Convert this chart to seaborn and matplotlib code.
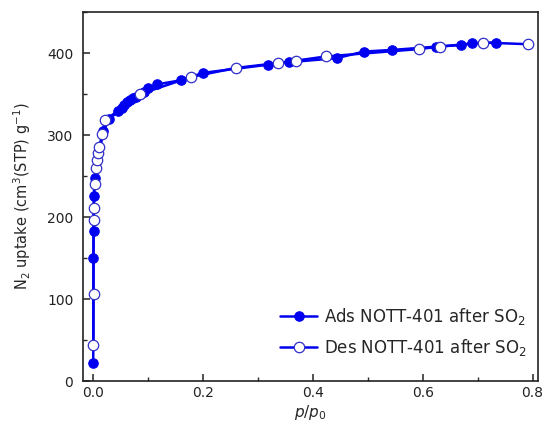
import matplotlib
matplotlib.use("Agg")
import matplotlib.pyplot as plt
import seaborn as sns
import numpy as np
import pandas as pd
from matplotlib.ticker import MultipleLocator

# Adsorption branch (filled)
ads_p = [0.0005, 0.0008, 0.0010, 0.0015, 0.0030, 0.019, 0.030, 0.046,
         0.052, 0.057, 0.062, 0.067, 0.072, 0.078, 0.085, 0.092, 0.100,
         0.117, 0.160, 0.200, 0.319, 0.357, 0.444, 0.493, 0.545, 0.625,
         0.670, 0.690, 0.733]
ads_v = [22, 150, 183, 226, 248, 305, 320, 329,
         333, 337, 340, 343, 345, 347, 350, 353, 357,
         362, 367, 376, 386, 389, 394, 402, 404, 408,
         410, 412, 413]

# Desorption branch (open)
des_p = [0.0008, 0.0010, 0.0012, 0.0015, 0.0030, 0.005, 0.007, 0.009,
         0.011, 0.017, 0.022, 0.085, 0.179, 0.260, 0.337, 0.370, 0.424,
         0.593, 0.631, 0.709, 0.791]
des_v = [44, 106, 197, 211, 241, 260, 270, 278,
         285, 301, 318, 350, 371, 382, 388, 391, 396,
         405, 408, 413, 411]

ads_label = "Ads NOTT-401 after SO$_2$"
des_label = "Des NOTT-401 after SO$_2$"

sns.set_style("ticks")
plt.rcParams['font.family'] = ['DejaVu Sans']
plt.rcParams['mathtext.fontset'] = 'dejavusans'

fig = plt.figure(figsize=(5.43, 4.36), dpi=100)
ax = fig.add_axes([0.153, 0.126, 0.838, 0.846])

blue = "#0000F0"
df_a = pd.DataFrame({"p": ads_p, "v": ads_v})
df_d = pd.DataFrame({"p": des_p, "v": des_v})

sns.lineplot(data=df_a, x="p", y="v", ax=ax, sort=False, estimator=None,
             color=blue, linewidth=1.8, marker="o", markersize=6.8,
             markerfacecolor=blue, markeredgecolor=blue, markeredgewidth=0.8,
             label=ads_label)
sns.lineplot(data=df_d, x="p", y="v", ax=ax, sort=False, estimator=None,
             color=blue, linewidth=1.8, marker="o", markersize=7.5,
             markerfacecolor="white", markeredgecolor="#3030C8", markeredgewidth=0.9,
             label=des_label)

ax.set_xlim(-0.018, 0.81)
ax.set_ylim(0, 450)
ax.xaxis.set_major_locator(MultipleLocator(0.2))
ax.xaxis.set_minor_locator(MultipleLocator(0.1))
ax.yaxis.set_major_locator(MultipleLocator(100))
ax.yaxis.set_minor_locator(MultipleLocator(50))
ax.tick_params(which="major", direction="in", length=5, width=1.1, labelsize=10, colors="#222222")
ax.tick_params(axis="y", which="major", pad=7)
ax.tick_params(which="minor", direction="in", length=3, width=1.0)
for s in ax.spines.values():
    s.set_linewidth(1.2)
    s.set_color("#222222")

ax.set_xlabel("$p$/$p_0$", fontsize=11, labelpad=2)
ax.set_ylabel("N$_2$ uptake (cm$^3$(STP) g$^{-1}$)", fontsize=10.5, labelpad=10)

leg = ax.legend(loc="lower right", bbox_to_anchor=(1.0, 0.03), frameon=False,
                fontsize=12, handlelength=2.2, handletextpad=0.4,
                borderaxespad=0.3, labelspacing=0.6)

fig.savefig("out.png", dpi=100)
